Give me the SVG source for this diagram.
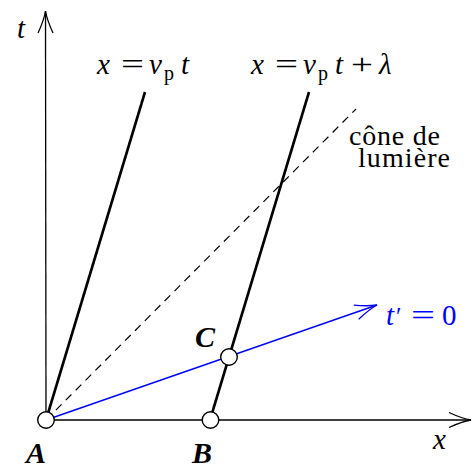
<svg xmlns="http://www.w3.org/2000/svg" width="475" height="468" viewBox="0 0 475 468">
<style>
  text { font-family: "Liberation Serif", "Times New Roman", serif; font-size: 29px; fill: #000; }
  .mi { font-style: italic; }
  .sub { font-size: 20px; }
  .lbl { font-style: italic; font-weight: bold; font-size: 30px; }
  .blue { fill: #0000ff; }
  .axis { stroke: #000; stroke-width: 1.3; fill: none; }
  .world { stroke: #000; stroke-width: 2.6; fill: none; }
  .cone { stroke: #000; stroke-width: 1.2; stroke-dasharray: 8 6; fill: none; }
  .sim { stroke: #0000ff; stroke-width: 1.4; fill: none; }
  .pt { fill: #fff; stroke: #000; stroke-width: 1.4; }
</style>
<defs>
  <marker id="arrK" markerUnits="userSpaceOnUse" markerWidth="30" markerHeight="20" viewBox="-24 -10 28 20" refX="0" refY="0" orient="auto" overflow="visible">
    <path d="M -22,-7.5 Q -9,-1.5 0,0 Q -9,1.5 -22,7.5" fill="none" stroke="#000" stroke-width="1.3"/>
  </marker>
  <marker id="arrB" markerUnits="userSpaceOnUse" markerWidth="30" markerHeight="20" viewBox="-24 -10 28 20" refX="0" refY="0" orient="auto" overflow="visible">
    <path d="M -22,-7.5 Q -9,-1.5 0,0 Q -9,1.5 -22,7.5" fill="none" stroke="#0000ff" stroke-width="1.4"/>
  </marker>
</defs>

<g id="connectors">
  <line id="axis-x" class="axis" x1="46" y1="420" x2="471" y2="420" marker-end="url(#arrK)"/>
  <line id="axis-t" class="axis" x1="46" y1="420" x2="45.5" y2="11" marker-end="url(#arrK)"/>
  <line id="worldline-A" class="world" x1="46" y1="420" x2="145" y2="92"/>
  <line id="worldline-B" class="world" x1="210" y1="420" x2="309" y2="92"/>
  <line id="light-cone" class="cone" x1="46" y1="420" x2="356" y2="109"/>
  <line id="simultaneity" class="sim" x1="46" y1="420" x2="377" y2="305" marker-end="url(#arrB)"/>
</g>

<g id="node-A">
  <circle class="pt" cx="46" cy="420" r="8.3"/>
  <text class="lbl" x="26" y="463">A</text>
</g>
<g id="node-B">
  <circle class="pt" cx="210.5" cy="420" r="8.3"/>
  <text class="lbl" x="192" y="463">B</text>
</g>
<g id="node-C">
  <circle class="pt" cx="229" cy="357" r="8.3"/>
  <text class="lbl" x="195" y="347">C</text>
</g>

<g id="label-t-axis">
  <text class="mi" x="17" y="38">t</text>
</g>
<g id="label-x-axis">
  <text class="mi" x="433" y="449">x</text>
</g>

<g id="label-worldline-A">
  <text class="mi" x="97" y="74">x</text>
  <text x="121" y="74" textLength="23" lengthAdjust="spacingAndGlyphs">=</text>
  <text class="mi" x="149" y="74">v</text>
  <text class="sub" x="164" y="80">p</text>
  <text class="mi" x="181" y="74">t</text>
</g>

<g id="label-worldline-B">
  <text class="mi" x="251" y="74">x</text>
  <text x="275" y="74" textLength="23" lengthAdjust="spacingAndGlyphs">=</text>
  <text class="mi" x="303" y="74">v</text>
  <text class="sub" x="318" y="80">p</text>
  <text class="mi" x="335" y="74">t</text>
  <text x="351" y="74" textLength="22" lengthAdjust="spacingAndGlyphs">+</text>
  <text class="mi" x="379" y="74">λ</text>
</g>

<g id="label-cone">
  <text x="349" y="145" style="font-size:28px" textLength="91">cône de</text>
  <text x="358" y="167" style="font-size:28px" textLength="92">lumière</text>
</g>

<g id="label-simultaneity">
  <text class="mi blue" x="386" y="325">t</text>
  <text class="blue" x="396" y="325" style="font-size:25px">′</text>
  <text class="blue" x="411" y="325" textLength="24" lengthAdjust="spacingAndGlyphs">=</text>
  <text class="blue" x="442" y="325">0</text>
</g>
</svg>
